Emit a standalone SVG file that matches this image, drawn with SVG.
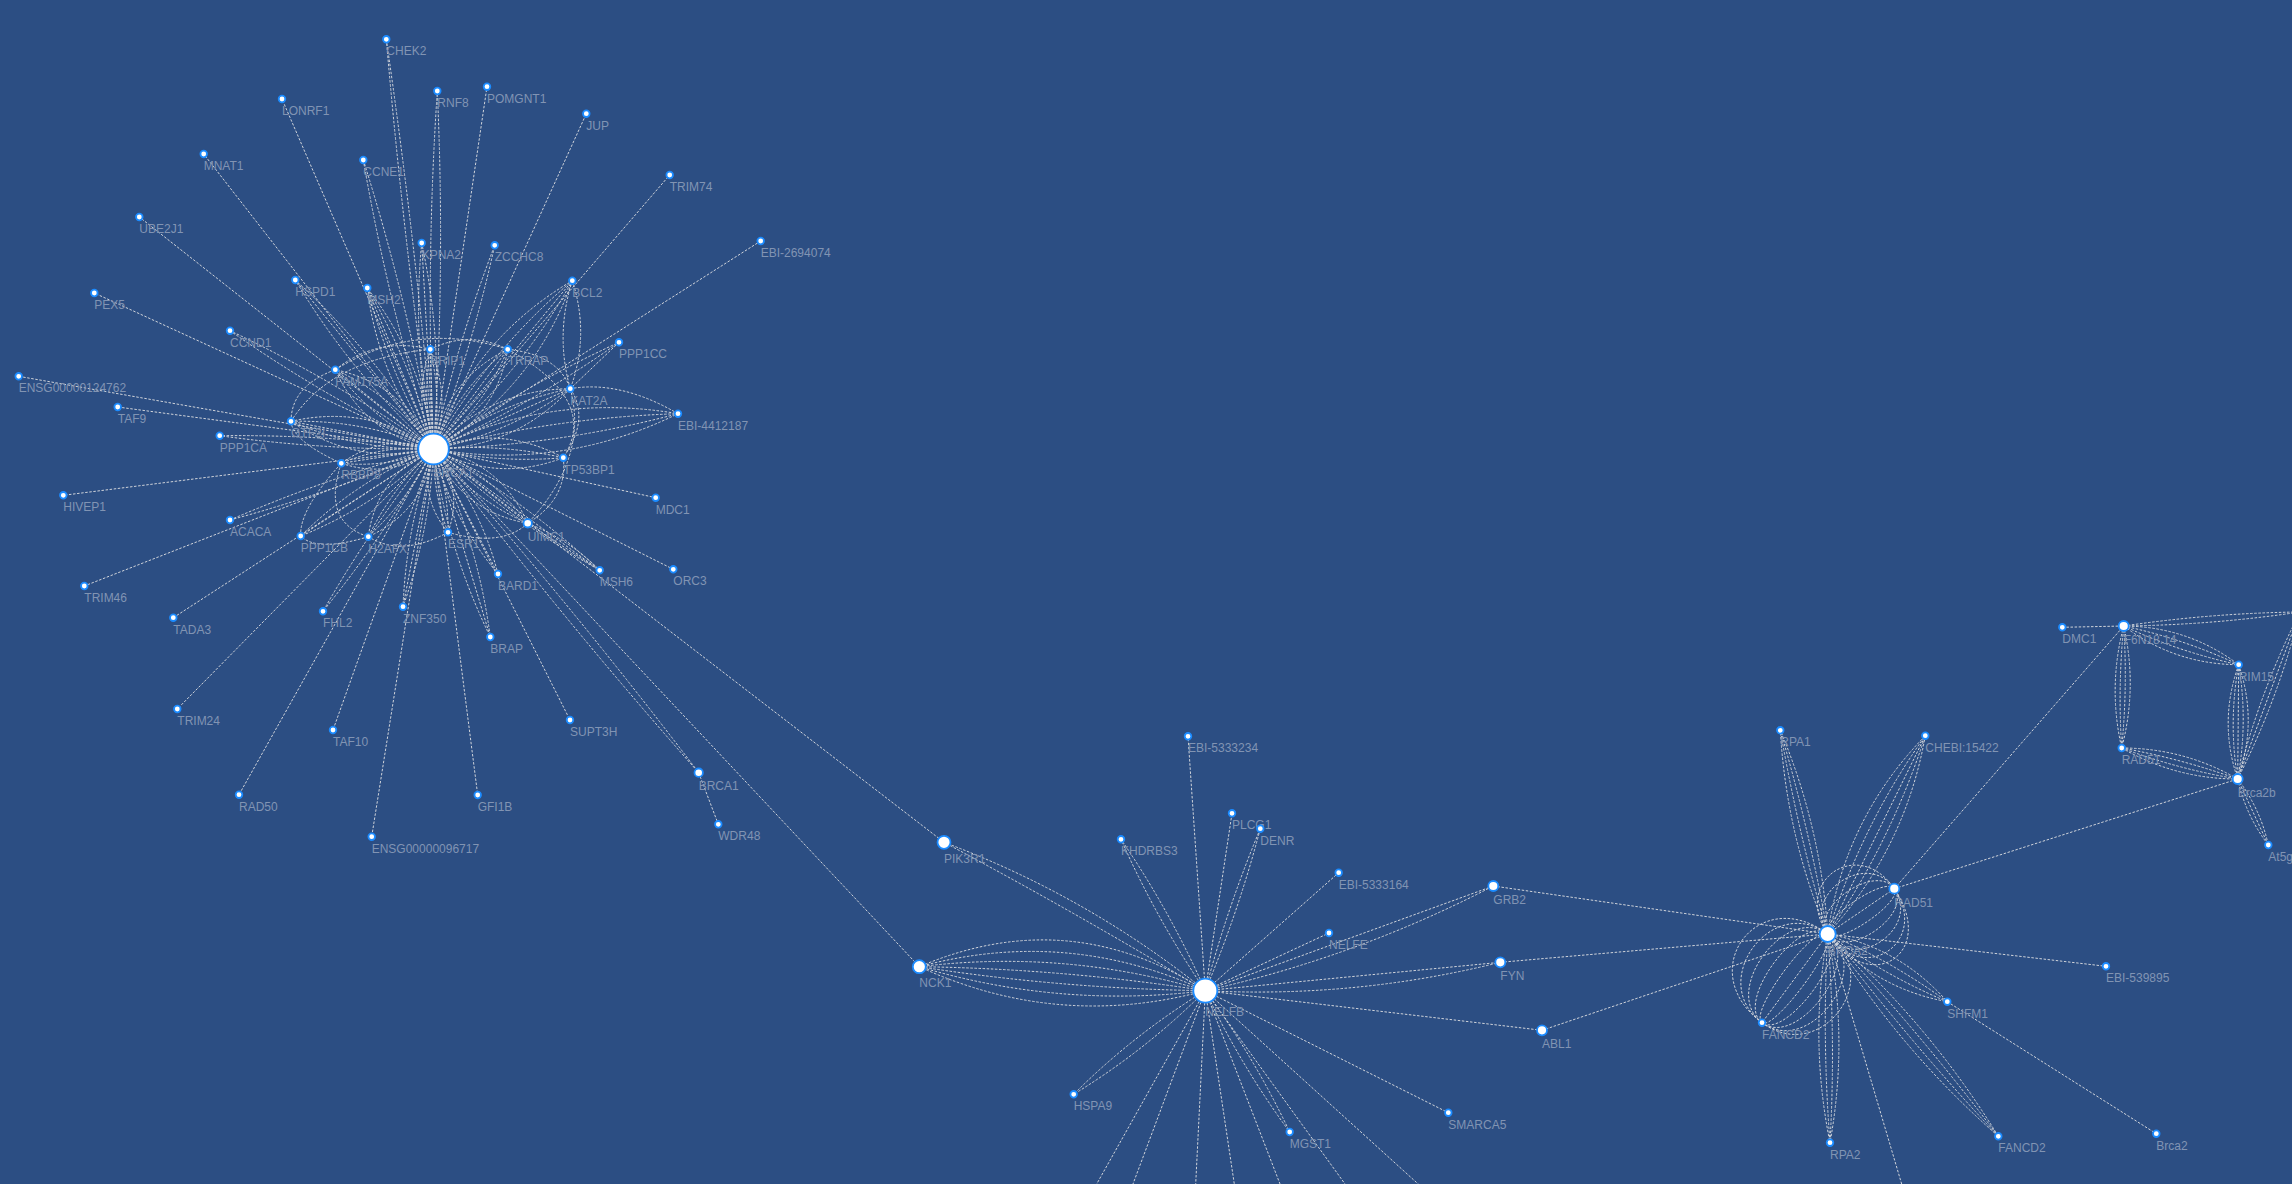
<svg xmlns="http://www.w3.org/2000/svg" width="2292" height="1184" viewBox="0 0 2292 1184">
<style>
.e{fill:none;stroke:#cfd3da;stroke-width:1;stroke-dasharray:2.5 1.6}
.n circle{fill:#fff;stroke:#1b8bff;stroke-width:1.8}
.n text{font-family:"Liberation Sans",Arial,Helvetica,sans-serif;font-size:12px;fill:#8194b3}
</style>
<rect width="2292" height="1184" fill="#2c4e83"/>
<g id="connectors">
<path class="e" d="M433.5 449L282 99M433.5 449L203.7 154M433.5 449L139.3 217M433.5 449L94.3 293M433.5 449L487 86.7M433.5 449L586.3 113.7M433.5 449L669.7 175M433.5 449L760.7 241M433.5 449L18.7 376.3M433.5 449L117.7 407M433.5 449L63.3 495.3M433.5 449L84.3 586M433.5 449L173.3 617.7M433.5 449L177.3 709M433.5 449L333 730M433.5 449L239 794.7M433.5 449L371.7 836.7M433.5 449L477.7 795M433.5 449L570 720M433.5 449L655.7 497.7M433.5 449L673.3 569.3M433.5 449L944 842.3M433.5 449L919.3 966.7"/>
<path class="e" d="M433.5 449Q415.9 243.5 386.3 39.3M433.5 449Q403.9 244.9 386.3 39.3"/>
<path class="e" d="M433.5 449Q445.4 270.1 437.3 91M433.5 449Q425.4 269.9 437.3 91"/>
<path class="e" d="M433.5 449Q408.1 302.1 363.3 160M433.5 449Q388.7 306.9 363.3 160"/>
<path class="e" d="M433.5 449Q471.8 349.5 494.7 245.3M433.5 449Q456.4 344.9 494.7 245.3"/>
<path class="e" d="M433.5 449Q336.8 381.2 230 330.7M433.5 449Q326.8 398.5 230 330.7"/>
<path class="e" d="M433.5 449Q327.1 434.4 219.7 435.7M433.5 449Q326.1 450.4 219.7 435.7"/>
<path class="e" d="M433.5 449Q329.2 477 230 520M433.5 449Q334.4 492 230 520"/>
<path class="e" d="M433.5 449Q371.7 525.7 323 611.3M433.5 449Q384.9 534.7 323 611.3"/>
<path class="e" d="M433.5 449Q559.9 616 698.7 772.7M433.5 449Q572.3 605.8 698.7 772.7"/>
<path class="e" d="M433.5 449Q531.3 404.4 619 342.3M433.5 449Q521.3 387 619 342.3"/>
<path class="e" d="M433.5 449L295.3 280M433.5 449Q376.8 354.4 295.3 280M433.5 449Q352 374.6 295.3 280"/>
<path class="e" d="M433.5 449L421.7 243M433.5 449Q443.6 345.1 421.7 243M433.5 449Q411.6 346.9 421.7 243"/>
<path class="e" d="M433.5 449L403 606.7M433.5 449Q406.5 525.6 403 606.7M433.5 449Q430.1 530.2 403 606.7"/>
<path class="e" d="M433.5 449L490.3 637M433.5 449Q446.6 547.6 490.3 637M433.5 449Q477.2 538.4 490.3 637"/>
<path class="e" d="M433.5 449L498 574M433.5 449Q451.6 518.8 498 574M433.5 449Q480 504.2 498 574"/>
<path class="e" d="M433.5 449L300.7 536M433.5 449Q358.3 479.1 300.7 536M433.5 449Q375.9 505.9 300.7 536"/>
<path class="e" d="M433.5 449L599.7 570.3M433.5 449Q509.5 519.4 599.7 570.3M433.5 449Q523.7 500 599.7 570.3"/>
<path class="e" d="M433.5 449L367.3 288M433.5 449Q411.5 363.9 367.3 288M433.5 449Q389.3 373.1 367.3 288M433.5 449Q422.6 359.4 367.3 288M433.5 449Q378.2 377.6 367.3 288"/>
<path class="e" d="M433.5 449L572.3 280.7M433.5 449Q518.3 377.6 572.3 280.7M433.5 449Q487.5 352.2 572.3 280.7M433.5 449Q533.8 390.3 572.3 280.7M433.5 449Q472 339.5 572.3 280.7"/>
<path class="e" d="M433.5 449L335.3 369.7M433.5 449Q394.5 396.9 335.3 369.7M433.5 449Q374.3 421.9 335.3 369.7M433.5 449Q404.5 384.5 335.3 369.7M433.5 449Q364.3 434.3 335.3 369.7"/>
<path class="e" d="M433.5 449L430.3 349.3M433.5 449Q441.9 398.9 430.3 349.3M433.5 449Q421.9 399.5 430.3 349.3M433.5 449Q451.9 398.6 430.3 349.3M433.5 449Q411.9 399.8 430.3 349.3"/>
<path class="e" d="M433.5 449L507.7 349.3M433.5 449Q483.4 408.8 507.7 349.3M433.5 449Q457.8 389.6 507.7 349.3M433.5 449Q496.3 418.3 507.7 349.3M433.5 449Q444.9 380.1 507.7 349.3"/>
<path class="e" d="M433.5 449L570.3 388.7M433.5 449Q508.4 433.5 570.3 388.7M433.5 449Q495.4 404.3 570.3 388.7M433.5 449Q514.8 448.2 570.3 388.7M433.5 449Q489 389.6 570.3 388.7"/>
<path class="e" d="M433.5 449Q550.1 391.8 678 413.7M433.5 449Q553.8 417.5 678 413.7M433.5 449Q557.8 445.3 678 413.7M433.5 449Q561.5 471 678 413.7"/>
<path class="e" d="M433.5 449L291 421.3M433.5 449Q365.4 419.5 291 421.3M433.5 449Q359.2 450.9 291 421.3M433.5 449Q368.4 403.8 291 421.3M433.5 449Q356.2 466.6 291 421.3"/>
<path class="e" d="M433.5 449L341.3 463.3M433.5 449Q385.6 444.3 341.3 463.3M433.5 449Q389.2 468.1 341.3 463.3M433.5 449Q383.7 432.5 341.3 463.3M433.5 449Q391.1 479.9 341.3 463.3"/>
<path class="e" d="M433.5 449Q500.4 423.5 563.3 457.7M433.5 449Q499.1 443.4 563.3 457.7M433.5 449Q497.7 463.4 563.3 457.7M433.5 449Q496.4 483.3 563.3 457.7"/>
<path class="e" d="M433.5 449Q425 510.8 368.3 536.7M433.5 449Q408.9 498.9 368.3 536.7M433.5 449Q392.9 486.9 368.3 536.7M433.5 449Q376.8 475 368.3 536.7"/>
<path class="e" d="M433.5 449Q464.4 486.6 448 532.3M433.5 449Q448.7 489.3 448 532.3M433.5 449Q432.9 492.1 448 532.3M433.5 449Q417.2 494.8 448 532.3"/>
<path class="e" d="M433.5 449L527.7 523.3M433.5 449Q470.7 498.8 527.7 523.3M433.5 449Q490.5 473.6 527.7 523.3M433.5 449Q460.8 511.3 527.7 523.3M433.5 449Q500.4 461.1 527.7 523.3"/>
<path class="e" d="M335.3 369.7Q377.8 336.1 430.3 349.3M430.3 349.3Q469 330 507.7 349.3M507.7 349.3Q558.1 354.5 570.3 388.7M570.3 388.7Q590.4 418.6 563.3 457.7M563.3 457.7Q568 498.8 527.7 523.3M527.7 523.3Q501.5 547.6 448 532.3M448 532.3Q401.4 557.5 368.3 536.7M368.3 536.7Q316.5 552.3 300.7 536M300.7 536Q299.1 509.6 341.3 463.3M341.3 463.3Q292.2 440.9 291 421.3M291 421.3Q291.3 385.8 335.3 369.7"/>
<path class="e" d="M335.3 369.7Q416.2 319.9 507.7 349.3M291 421.3Q330.6 359 430.3 349.3M570.3 388.7Q589 458.4 527.7 523.3M341.3 463.3Q321.2 521.8 368.3 536.7M507.7 349.3Q600 400 563.3 457.7"/>
<path class="e" d="M572.3 280.7Q590 335 570.3 388.7M572.3 280.7Q555 335 570.3 388.7M678 413.7Q620 380 570.3 388.7M619 342.3L570.3 388.7M527.7 523.3L599.7 570.3M527.7 523.3Q570 540 599.7 570.3M698.7 772.7L718.3 824.3"/>
<path class="e" d="M1205.3 990.7L1188 736.3M1205.3 990.7L1232 813.3M1205.3 990.7L1338.7 872.7M1205.3 990.7L1329 933M1205.3 990.7L1542 1030.3M1205.3 990.7L1448.3 1112.7"/>
<path class="e" d="M1205.3 990.7Q1238.5 911.6 1260.3 828.7M1205.3 990.7Q1227.1 907.8 1260.3 828.7"/>
<path class="e" d="M1205.3 990.7Q1170.2 911.1 1121 839.3M1205.3 990.7Q1156.2 918.9 1121 839.3"/>
<path class="e" d="M1205.3 990.7Q1076.7 913 944 842.3M1205.3 990.7Q1086.6 895.6 944 842.3"/>
<path class="e" d="M1205.3 990.7L1493.3 886M1205.3 990.7Q1356.1 957.2 1493.3 886"/>
<path class="e" d="M1205.3 990.7L1500.3 962.3M1205.3 990.7Q1354.9 998.4 1500.3 962.3"/>
<path class="e" d="M1205.3 990.7Q1068.7 903 919.3 966.7M1205.3 990.7Q1066.6 926.9 919.3 966.7M1205.3 990.7Q1064.8 948.8 919.3 966.7M1205.3 990.7Q1063.1 968.7 919.3 966.7M1205.3 990.7Q1061.5 988.7 919.3 966.7M1205.3 990.7Q1059.8 1008.6 919.3 966.7M1205.3 990.7Q1058 1030.5 919.3 966.7"/>
<path class="e" d="M1205.3 990.7Q1133.3 1034.6 1073.7 1094.3M1205.3 990.7Q1145.7 1050.4 1073.7 1094.3"/>
<path class="e" d="M1205.3 990.7Q1240.6 1065.5 1289.7 1132M1205.3 990.7Q1254.4 1057.3 1289.7 1132"/>
<path class="e" d="M1205.3 990.7L1087.7 1200M1205.3 990.7L1127 1200M1205.3 990.7L1194.9 1200M1205.3 990.7L1236.7 1200M1205.3 990.7L1286.2 1200M1205.3 990.7L1356.6 1200M1205.3 990.7L1435.8 1200"/>
<path class="e" d="M1493.3 886L1827.7 934M1500.3 962.3L1827.7 934M1542 1030.3L1827.7 934M1827.7 934L2106 966.3M1827.7 934L1906.4 1200M1947.3 1001.7L2156.3 1133.7M1894.3 888.7L2123.7 626M1894.3 888.7L2237.7 779"/>
<path class="e" d="M1827.7 934Q1786.5 836.3 1780.3 730.3M1827.7 934Q1798.2 833.6 1780.3 730.3M1827.7 934Q1809.8 830.8 1780.3 730.3M1827.7 934Q1821.5 828.1 1780.3 730.3"/>
<path class="e" d="M1827.7 934Q1844.2 819 1925.3 735.7M1827.7 934Q1860.3 827 1925.3 735.7M1827.7 934L1925.3 735.7M1827.7 934Q1890.9 842 1925.3 735.7M1827.7 934Q1905.2 849 1925.3 735.7"/>
<path class="e" d="M1827.7 934C1791.7 881.1 1858.3 835.8 1894.3 888.7M1827.7 934C1800.7 894.3 1867.3 849 1894.3 888.7M1827.7 934C1809.7 907.5 1876.3 862.2 1894.3 888.7M1827.7 934C1818.7 920.8 1885.3 875.5 1894.3 888.7M1827.7 934L1894.3 888.7M1827.7 934C1836.7 947.2 1903.3 901.9 1894.3 888.7M1827.7 934C1845.7 960.5 1912.3 915.2 1894.3 888.7M1827.7 934C1854.7 973.7 1921.3 928.4 1894.3 888.7M1827.7 934C1863.7 986.9 1930.3 941.6 1894.3 888.7M1827.7 934C1871 997.7 1937.6 952.4 1894.3 888.7"/>
<path class="e" d="M1827.7 934C1758 882.4 1692.3 971.1 1762 1022.7M1827.7 934C1772 892.8 1706.3 981.5 1762 1022.7M1827.7 934C1785.9 903.1 1720.2 991.8 1762 1022.7M1827.7 934C1799.8 913.4 1734.1 1002.1 1762 1022.7M1827.7 934C1813.8 923.7 1748.1 1012.4 1762 1022.7M1827.7 934L1762 1022.7M1827.7 934C1839.5 942.7 1773.8 1031.4 1762 1022.7M1827.7 934C1851.2 951.4 1785.5 1040.1 1762 1022.7M1827.7 934C1863 960.2 1797.3 1048.9 1762 1022.7M1827.7 934C1874.9 968.9 1809.2 1057.6 1762 1022.7M1827.7 934C1886.6 977.6 1820.9 1066.3 1762 1022.7"/>
<path class="e" d="M1827.7 934Q1899.3 947 1947.3 1001.7M1827.7 934Q1891.4 960.9 1947.3 1001.7M1827.7 934Q1883.6 974.9 1947.3 1001.7M1827.7 934Q1875.7 988.8 1947.3 1001.7"/>
<path class="e" d="M1827.7 934Q1848.9 1038.2 1830 1142.7M1827.7 934Q1835.9 1038.3 1830 1142.7M1827.7 934Q1821.9 1038.5 1830 1142.7M1827.7 934Q1808.9 1038.6 1830 1142.7"/>
<path class="e" d="M1827.7 934Q1928.3 1022.3 1998.3 1136.3M1827.7 934Q1918.4 1030.7 1998.3 1136.3M1827.7 934Q1907.6 1039.7 1998.3 1136.3M1827.7 934Q1897.7 1048.1 1998.3 1136.3"/>
<path class="e" d="M2062.3 627.3L2123.7 626"/>
<path class="e" d="M2123.7 626Q2187.6 626.4 2238.7 664.7M2123.7 626Q2183.4 638.8 2238.7 664.7M2123.7 626Q2179 652 2238.7 664.7M2123.7 626Q2174.8 664.4 2238.7 664.7"/>
<path class="e" d="M2123.7 626Q2137.7 687.2 2121.7 748M2123.7 626Q2127.7 687.1 2121.7 748M2123.7 626Q2117.7 686.9 2121.7 748M2123.7 626Q2107.7 686.8 2121.7 748"/>
<path class="e" d="M2238.7 664.7Q2258.2 721.9 2237.7 779M2238.7 664.7Q2248.2 721.9 2237.7 779M2238.7 664.7L2237.7 779M2238.7 664.7Q2228.2 721.9 2237.7 779M2238.7 664.7Q2218.2 721.9 2237.7 779"/>
<path class="e" d="M2121.7 748Q2183.8 748 2237.7 779M2121.7 748Q2181 758.7 2237.7 779M2121.7 748Q2178.2 769.3 2237.7 779M2121.7 748Q2175.6 779 2237.7 779"/>
<path class="e" d="M2237.7 779Q2260.3 808.6 2268.3 845M2237.7 779L2268.3 845M2237.7 779Q2245.7 815.4 2268.3 845"/>
<path class="e" d="M2123.7 626Q2212.4 625 2300 612M2123.7 626Q2211.4 613 2300 612"/>
<path class="e" d="M2237.7 779Q2259.5 692 2300 612M2237.7 779L2300 612M2237.7 779Q2278.3 699 2300 612"/>
</g>
<g id="n-chek2" class="n"><circle cx="386.3" cy="39.3" r="3.3"/><text x="386.3" y="55.3">CHEK2</text></g>
<g id="n-lonrf1" class="n"><circle cx="282" cy="99" r="3.3"/><text x="282" y="115">LONRF1</text></g>
<g id="n-mnat1" class="n"><circle cx="203.7" cy="154" r="3.3"/><text x="203.7" y="170">MNAT1</text></g>
<g id="n-ccne1" class="n"><circle cx="363.3" cy="160" r="3.3"/><text x="363.3" y="176">CCNE1</text></g>
<g id="n-ube2j1" class="n"><circle cx="139.3" cy="217" r="3.3"/><text x="139.3" y="233">UBE2J1</text></g>
<g id="n-hspd1" class="n"><circle cx="295.3" cy="280" r="3.3"/><text x="295.3" y="296">HSPD1</text></g>
<g id="n-msh2" class="n"><circle cx="367.3" cy="288" r="3.3"/><text x="367.3" y="304">MSH2</text></g>
<g id="n-pex5" class="n"><circle cx="94.3" cy="293" r="3.3"/><text x="94.3" y="309">PEX5</text></g>
<g id="n-rnf8" class="n"><circle cx="437.3" cy="91" r="3.3"/><text x="437.3" y="107">RNF8</text></g>
<g id="n-pomgnt1" class="n"><circle cx="487" cy="86.7" r="3.3"/><text x="487" y="102.7">POMGNT1</text></g>
<g id="n-jup" class="n"><circle cx="586.3" cy="113.7" r="3.3"/><text x="586.3" y="129.7">JUP</text></g>
<g id="n-trim74" class="n"><circle cx="669.7" cy="175" r="3.3"/><text x="669.7" y="191">TRIM74</text></g>
<g id="n-ebi2694074" class="n"><circle cx="760.7" cy="241" r="3.3"/><text x="760.7" y="257">EBI-2694074</text></g>
<g id="n-kpna2" class="n"><circle cx="421.7" cy="243" r="3.3"/><text x="421.7" y="259">KPNA2</text></g>
<g id="n-zcchc8" class="n"><circle cx="494.7" cy="245.3" r="3.3"/><text x="494.7" y="261.3">ZCCHC8</text></g>
<g id="n-bcl2" class="n"><circle cx="572.3" cy="280.7" r="3.3"/><text x="572.3" y="296.7">BCL2</text></g>
<g id="n-ccnd1" class="n"><circle cx="230" cy="330.7" r="3.3"/><text x="230" y="346.7">CCND1</text></g>
<g id="n-fam175a" class="n"><circle cx="335.3" cy="369.7" r="3.3"/><text x="335.3" y="385.7">FAM175A</text></g>
<g id="n-ensg124762" class="n"><circle cx="18.7" cy="376.3" r="3.3"/><text x="18.7" y="392.3">ENSG00000124762</text></g>
<g id="n-taf9" class="n"><circle cx="117.7" cy="407" r="3.3"/><text x="117.7" y="423">TAF9</text></g>
<g id="n-gtf2i" class="n"><circle cx="291" cy="421.3" r="3.3"/><text x="291" y="437.3">GTF2I</text></g>
<g id="n-ppp1ca" class="n"><circle cx="219.7" cy="435.7" r="3.3"/><text x="219.7" y="451.7">PPP1CA</text></g>
<g id="n-rbbp8" class="n"><circle cx="341.3" cy="463.3" r="3.3"/><text x="341.3" y="479.3">RBBP8</text></g>
<g id="n-hivep1" class="n"><circle cx="63.3" cy="495.3" r="3.3"/><text x="63.3" y="511.3">HIVEP1</text></g>
<g id="n-acaca" class="n"><circle cx="230" cy="520" r="3.3"/><text x="230" y="536">ACACA</text></g>
<g id="n-ppp1cb" class="n"><circle cx="300.7" cy="536" r="3.3"/><text x="300.7" y="552">PPP1CB</text></g>
<g id="n-h2afx" class="n"><circle cx="368.3" cy="536.7" r="3.3"/><text x="368.3" y="552.7">H2AFX</text></g>
<g id="n-trim46" class="n"><circle cx="84.3" cy="586" r="3.3"/><text x="84.3" y="602">TRIM46</text></g>
<g id="n-brip1" class="n"><circle cx="430.3" cy="349.3" r="3.3"/><text x="430.3" y="365.3">BRIP1</text></g>
<g id="n-trrap" class="n"><circle cx="507.7" cy="349.3" r="3.3"/><text x="507.7" y="365.3">TRRAP</text></g>
<g id="n-ppp1cc" class="n"><circle cx="619" cy="342.3" r="3.3"/><text x="619" y="358.3">PPP1CC</text></g>
<g id="n-kat2a" class="n"><circle cx="570.3" cy="388.7" r="3.3"/><text x="570.3" y="404.7">KAT2A</text></g>
<g id="n-ebi4412187" class="n"><circle cx="678" cy="413.7" r="3.3"/><text x="678" y="429.7">EBI-4412187</text></g>
<g id="n-tp53bp1" class="n"><circle cx="563.3" cy="457.7" r="3.3"/><text x="563.3" y="473.7">TP53BP1</text></g>
<g id="n-mdc1" class="n"><circle cx="655.7" cy="497.7" r="3.3"/><text x="655.7" y="513.7">MDC1</text></g>
<g id="n-uimc1" class="n"><circle cx="527.7" cy="523.3" r="4.2"/><text x="527.7" y="540.5">UIMC1</text></g>
<g id="n-esr1" class="n"><circle cx="448" cy="532.3" r="3.3"/><text x="448" y="548.3">ESR1</text></g>
<g id="n-bard1" class="n"><circle cx="498" cy="574" r="3.3"/><text x="498" y="590">BARD1</text></g>
<g id="n-msh6" class="n"><circle cx="599.7" cy="570.3" r="3.3"/><text x="599.7" y="586.3">MSH6</text></g>
<g id="n-orc3" class="n"><circle cx="673.3" cy="569.3" r="3.3"/><text x="673.3" y="585.3">ORC3</text></g>
<g id="n-tada3" class="n"><circle cx="173.3" cy="617.7" r="3.3"/><text x="173.3" y="633.7">TADA3</text></g>
<g id="n-fhl2" class="n"><circle cx="323" cy="611.3" r="3.3"/><text x="323" y="627.3">FHL2</text></g>
<g id="n-trim24" class="n"><circle cx="177.3" cy="709" r="3.3"/><text x="177.3" y="725">TRIM24</text></g>
<g id="n-taf10" class="n"><circle cx="333" cy="730" r="3.3"/><text x="333" y="746">TAF10</text></g>
<g id="n-rad50" class="n"><circle cx="239" cy="794.7" r="3.3"/><text x="239" y="810.7">RAD50</text></g>
<g id="n-ensg96717" class="n"><circle cx="371.7" cy="836.7" r="3.3"/><text x="371.7" y="852.7">ENSG00000096717</text></g>
<g id="n-znf350" class="n"><circle cx="403" cy="606.7" r="3.3"/><text x="403" y="622.7">ZNF350</text></g>
<g id="n-brap" class="n"><circle cx="490.3" cy="637" r="3.3"/><text x="490.3" y="653">BRAP</text></g>
<g id="n-supt3h" class="n"><circle cx="570" cy="720" r="3.3"/><text x="570" y="736">SUPT3H</text></g>
<g id="n-brca1b" class="n"><circle cx="698.7" cy="772.7" r="4.2"/><text x="698.7" y="789.7">BRCA1</text></g>
<g id="n-gfi1b" class="n"><circle cx="477.7" cy="795" r="3.3"/><text x="477.7" y="811">GFI1B</text></g>
<g id="n-wdr48" class="n"><circle cx="718.3" cy="824.3" r="3.3"/><text x="718.3" y="840.3">WDR48</text></g>
<g id="n-brca1" class="n"><circle cx="433.5" cy="449" r="15.3"/><text x="433.5" y="477">BRCA1</text></g>
<g id="n-ebi5333234" class="n"><circle cx="1188" cy="736.3" r="3.3"/><text x="1188" y="752.3">EBI-5333234</text></g>
<g id="n-plcg1" class="n"><circle cx="1232" cy="813.3" r="3.3"/><text x="1232" y="829.3">PLCG1</text></g>
<g id="n-denr" class="n"><circle cx="1260.3" cy="828.7" r="3.3"/><text x="1260.3" y="844.7">DENR</text></g>
<g id="n-khdrbs3" class="n"><circle cx="1121" cy="839.3" r="3.3"/><text x="1121" y="855.3">KHDRBS3</text></g>
<g id="n-pik3r1" class="n"><circle cx="944" cy="842.3" r="6.5"/><text x="944" y="862.5">PIK3R1</text></g>
<g id="n-ebi5333164" class="n"><circle cx="1338.7" cy="872.7" r="3.3"/><text x="1338.7" y="888.7">EBI-5333164</text></g>
<g id="n-nelfe" class="n"><circle cx="1329" cy="933" r="3.3"/><text x="1329" y="949">NELFE</text></g>
<g id="n-nck1" class="n"><circle cx="919.3" cy="966.7" r="6.5"/><text x="919.3" y="986.5">NCK1</text></g>
<g id="n-hspa9" class="n"><circle cx="1073.7" cy="1094.3" r="3.3"/><text x="1073.7" y="1110.3">HSPA9</text></g>
<g id="n-mgst1" class="n"><circle cx="1289.7" cy="1132" r="3.3"/><text x="1289.7" y="1148">MGST1</text></g>
<g id="n-grb2" class="n"><circle cx="1493.3" cy="886" r="5"/><text x="1493.3" y="904">GRB2</text></g>
<g id="n-fyn" class="n"><circle cx="1500.3" cy="962.3" r="5"/><text x="1500.3" y="980.3">FYN</text></g>
<g id="n-abl1" class="n"><circle cx="1542" cy="1030.3" r="5"/><text x="1542" y="1048.3">ABL1</text></g>
<g id="n-smarca5" class="n"><circle cx="1448.3" cy="1112.7" r="3.3"/><text x="1448.3" y="1128.7">SMARCA5</text></g>
<g id="n-nelfb" class="n"><circle cx="1205.3" cy="990.7" r="12"/><text x="1205.3" y="1016">NELFB</text></g>
<g id="n-rpa1" class="n"><circle cx="1780.3" cy="730.3" r="3.3"/><text x="1780.3" y="746.3">RPA1</text></g>
<g id="n-chebi15422" class="n"><circle cx="1925.3" cy="735.7" r="3.3"/><text x="1925.3" y="751.7">CHEBI:15422</text></g>
<g id="n-rad51" class="n"><circle cx="1894.3" cy="888.7" r="5"/><text x="1894.3" y="906.7">RAD51</text></g>
<g id="n-shfm1" class="n"><circle cx="1947.3" cy="1001.7" r="3.3"/><text x="1947.3" y="1017.7">SHFM1</text></g>
<g id="n-fancd2a" class="n"><circle cx="1762" cy="1022.7" r="3.3"/><text x="1762" y="1038.7">FANCD2</text></g>
<g id="n-rpa2" class="n"><circle cx="1830" cy="1142.7" r="3.3"/><text x="1830" y="1158.7">RPA2</text></g>
<g id="n-fancd2b" class="n"><circle cx="1998.3" cy="1136.3" r="3.3"/><text x="1998.3" y="1152.3">FANCD2</text></g>
<g id="n-ebi539895" class="n"><circle cx="2106" cy="966.3" r="3.3"/><text x="2106" y="982.3">EBI-539895</text></g>
<g id="n-brca2" class="n"><circle cx="2156.3" cy="1133.7" r="3.3"/><text x="2156.3" y="1149.7">Brca2</text></g>
<g id="n-brca2hub" class="n"><circle cx="1827.7" cy="934" r="8"/><text x="1827.7" y="955">BRCA2</text></g>
<g id="n-dmc1" class="n"><circle cx="2062.3" cy="627.3" r="3.3"/><text x="2062.3" y="643.3">DMC1</text></g>
<g id="n-f6n1814" class="n"><circle cx="2123.7" cy="626" r="5"/><text x="2123.7" y="644">F6N18.14</text></g>
<g id="n-rim15" class="n"><circle cx="2238.7" cy="664.7" r="3.3"/><text x="2238.7" y="680.7">RIM15</text></g>
<g id="n-rad51b" class="n"><circle cx="2121.7" cy="748" r="3.3"/><text x="2121.7" y="764">RAD51</text></g>
<g id="n-brca2b" class="n"><circle cx="2237.7" cy="779" r="5"/><text x="2237.7" y="797">Brca2b</text></g>
<g id="n-at5g" class="n"><circle cx="2268.3" cy="845" r="3.3"/><text x="2268.3" y="861">At5g</text></g>
</svg>
